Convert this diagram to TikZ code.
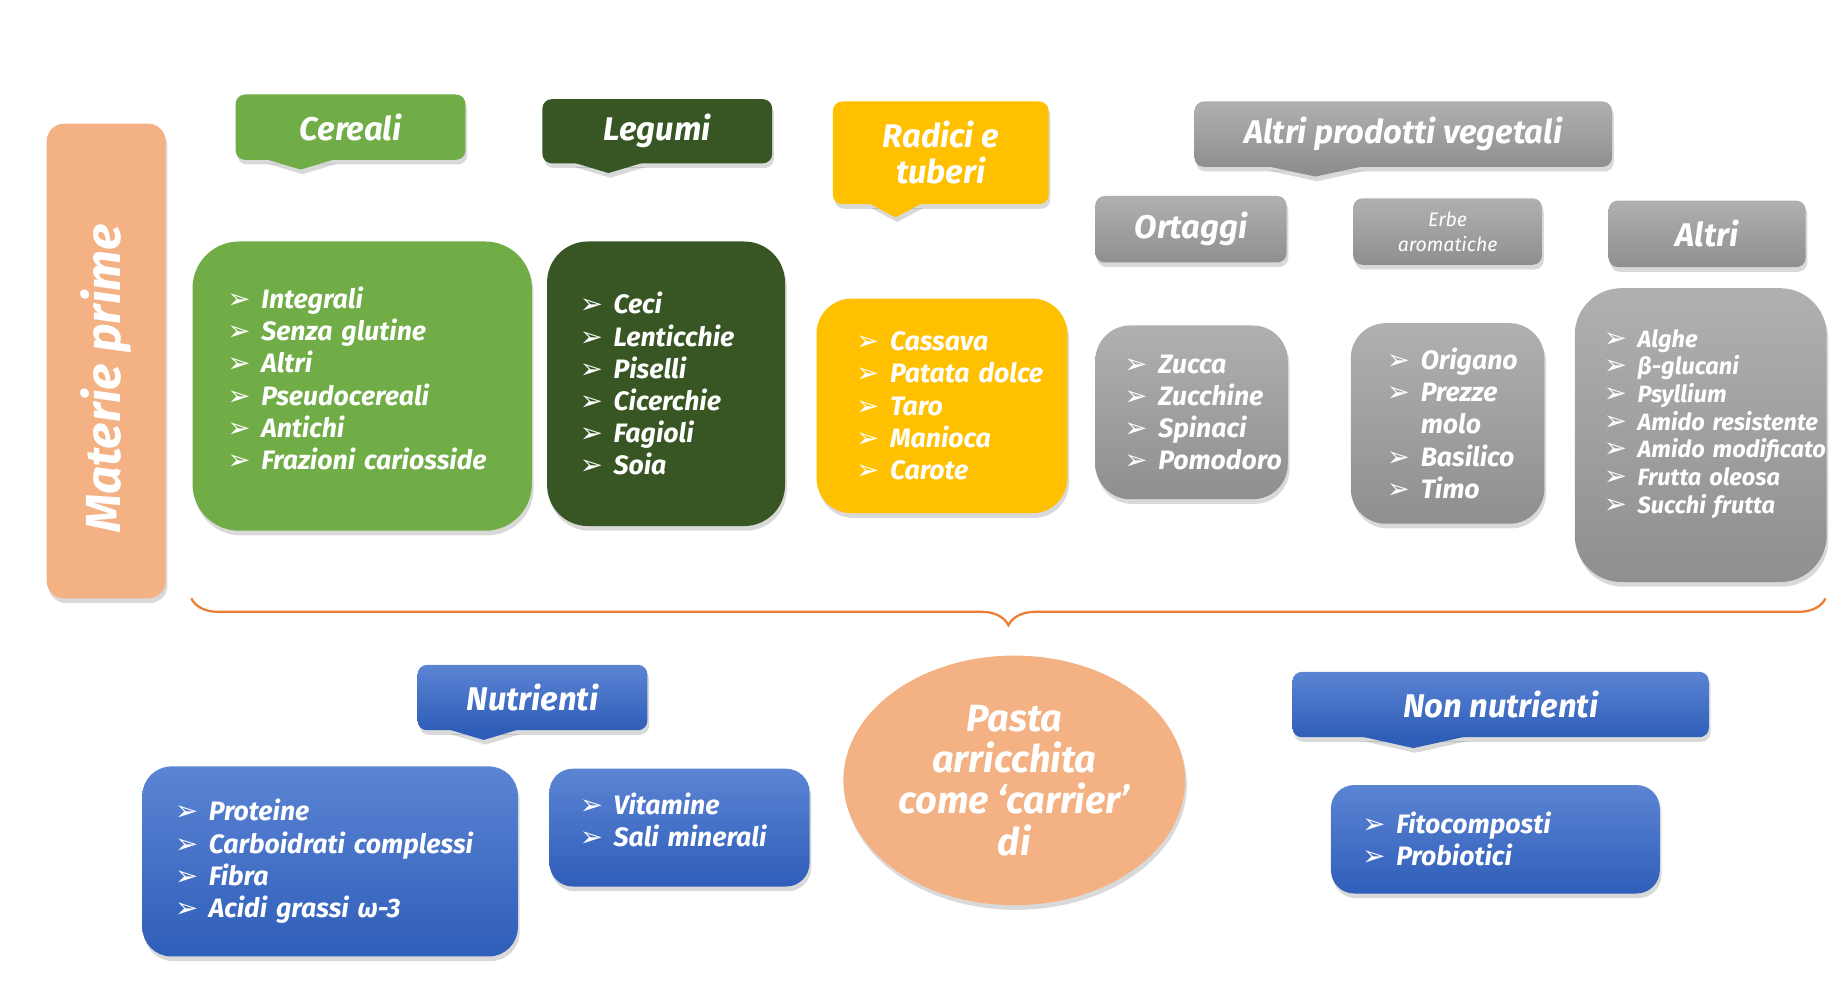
\documentclass[tikz,border=0pt]{standalone}
\usepackage{fontspec}
\setmainfont{Fira Sans}
\newfontfamily\symfont{DejaVu Sans}
\usetikzlibrary{shapes.geometric, shadows, decorations.pathreplacing, calc}

\definecolor{peach}{HTML}{F4B183}
\definecolor{grn}{HTML}{70AD47}
\definecolor{dkgrn}{HTML}{375623}
\definecolor{yel}{HTML}{FFC000}
\definecolor{gryT}{HTML}{B0B0B0}
\definecolor{gryB}{HTML}{8F8F8F}
\definecolor{bluT}{HTML}{5B84D3}
\definecolor{bluB}{HTML}{2F5EB9}
\definecolor{brc}{HTML}{ED7D31}

\newcommand{\itm}[1]{\mbox{\makebox[0.58cm][l]{\symfont\fontsize{13.5}{13.5}\selectfont ➢}#1}}
\newcommand{\cnt}[1]{\mbox{\hspace*{0.58cm}#1}}

\begin{document}
\begin{tikzpicture}[x = 0.02cm, y = -0.02cm,
	shd/.style = {drop shadow = {shadow xshift = 0.03cm, shadow yshift = -0.08cm, opacity = 0.3}},
	hdr/.style = {shd, rounded corners = 0.16cm, text = white, align = center, inner sep = 0pt,
		font = \fontsize{16}{17.6}\selectfont\bfseries\itshape},
	lst/.style = {shd, text = white, align = left, inner ysep = 0pt,
		font = \fontsize{13}{15.7}\selectfont\bfseries\itshape},
	gryfill/.style = {top color = gryT, bottom color = gryB},
	blufill/.style = {top color = bluT, bottom color = bluB}]

	\useasboundingbox (0, 0) rectangle (1568, 856);

	% Side label

	\node [shd, fill = peach, rounded corners = 0.3cm, minimum width = 2.04cm, minimum height = 8.14cm,
		text = white, font = \fontsize{24}{24}\selectfont\bfseries\itshape] (mat) at (91, 309.5)
		{\rotatebox{90}{Materie prime\hspace*{0.6cm}}};

	% Headers of the raw materials

	\node [hdr, fill = grn, minimum width = 3.94cm, minimum height = 1.12cm] (cer) at (300.5, 109) {Cereali};
	\node [hdr, fill = dkgrn, minimum width = 3.94cm, minimum height = 1.10cm] (leg) at (563.5, 112.5) {Legumi};
	\node [hdr, fill = yel, minimum width = 3.70cm, minimum height = 1.76cm] (rad) at (806.5, 131) {Radici e\\tuberi};
	\node [hdr, gryfill, minimum width = 7.16cm, minimum height = 1.12cm] (apv) at (1203, 115) {Altri prodotti vegetali};

	\node [hdr, gryfill, minimum width = 3.28cm, minimum height = 1.14cm] (ort) at (1021, 196.5) {Ortaggi};
	\node [hdr, gryfill, minimum width = 3.24cm, minimum height = 1.14cm,
		font = \fontsize{9.5}{12}\selectfont\itshape] (erb) at (1241, 198.5) {Erbe\\aromatiche};
	\node [hdr, gryfill, minimum width = 3.38cm, minimum height = 1.14cm] (alt) at (1463.5, 200.5) {Altri};

	% Pointers under the headers

	\fill [grn, shd] ($(cer.south west) + (26, -1)$) -- ++(30, 9) -- ++(30, -9) -- cycle;
	\fill [dkgrn, shd] ($(leg.south west) + (27, -1)$) -- ++(30, 9) -- ++(30, -9) -- cycle;
	\fill [yel, shd] ($(rad.south west) + (31.5, -1)$) -- ++(22.5, 12) -- ++(22.5, -12) -- cycle;
	\fill [gryB, shd] ($(apv.south west) + (62, -1)$) -- ++(42, 9) -- ++(42, -9) -- cycle;

	% Lists of the raw materials

	\node [lst, fill = grn, rounded corners = 0.8cm, minimum height = 4.96cm, text width = 4.62cm,
		inner xsep = 0.6cm] (cerL) at (310.5, 331)
		{\itm{Integrali}\\ \itm{Senza glutine}\\ \itm{Altri}\\ \itm{Pseudocereali}\\ \itm{Antichi}\\
		\itm{Frazioni cariosside}\\[-8pt] \mbox{}};

	\node [lst, fill = dkgrn, rounded corners = 0.7cm, minimum height = 4.88cm, text width = 2.96cm,
		inner xsep = 0.56cm] (legL) at (571, 329)
		{\itm{Ceci}\\ \itm{Lenticchie}\\ \itm{Piselli}\\ \itm{Cicerchie}\\ \itm{Fagioli}\\ \itm{Soia}};

	\node [lst, fill = yel, rounded corners = 0.6cm, minimum height = 3.68cm, text width = 2.94cm,
		inner xsep = 0.68cm] (radL) at (807.5, 348)
		{\itm{Cassava}\\ \itm{Patata dolce}\\ \itm{Taro}\\ \itm{Manioca}\\ \itm{Carote}};

	\node [lst, gryfill, rounded corners = 0.6cm, minimum height = 2.98cm, text width = 2.30cm,
		inner xsep = 0.5cm] (ortL) at (1021.5, 353.5)
		{\itm{Zucca}\\ \itm{Zucchine}\\ \itm{Spinaci}\\ \itm{Pomodoro}};

	\node [lst, gryfill, rounded corners = 0.6cm, minimum height = 3.44cm, text width = 2.08cm,
		inner xsep = 0.62cm] (erbL) at (1241, 363)
		{\itm{Origano}\\ \itm{Prezze}\\ \cnt{molo}\\ \itm{Basilico}\\ \itm{Timo}};

	\node [lst, gryfill, rounded corners = 0.8cm, minimum height = 5.04cm, text width = 3.32cm,
		inner xsep = 0.5cm, font = \fontsize{11.5}{13.5}\selectfont\bfseries\itshape] (altL) at (1458, 373)
		{\itm{Alghe}\\ \itm{β-glucani}\\ \itm{Psyllium}\\ \itm{Amido resistente}\\ \itm{Amido modificato}\\
		\itm{Frutta oleosa}\\ \itm{Succhi frutta}\\ \mbox{}};

	% Draw brace

	\coordinate (brL) at (164, 513);
	\coordinate (brR) at (1565, 513);
	\draw [brc, line width = 1.1pt, decorate, decoration = {brace, mirror, amplitude = 0.46cm}] (brL) -- (brR);

	% Central ellipse

	\node [ellipse, shd, fill = peach, minimum width = 5.86cm, minimum height = 4.28cm, inner sep = 0pt,
		text = white, align = center, font = \fontsize{18.5}{20.2}\selectfont\bfseries\itshape] (pst) at (869.5, 669)
		{Pasta\\arricchita\\come `carrier'\\di};

	% Nutrienti / Non nutrienti

	\node [hdr, blufill, minimum width = 3.94cm, minimum height = 1.12cm] (nut) at (456.5, 598) {Nutrienti};
	\node [hdr, blufill, minimum width = 7.14cm, minimum height = 1.12cm] (non) at (1286.5, 604) {Non nutrienti};

	\fill [bluB, shd] ($(nut.south west) + (27, -1)$) -- ++(30, 9) -- ++(30, -9) -- cycle;
	\fill [bluB, shd] ($(non.south west) + (59, -1)$) -- ++(45, 10) -- ++(45, -10) -- cycle;

	\node [lst, blufill, rounded corners = 0.5cm, minimum height = 3.26cm, text width = 5.32cm,
		inner xsep = 0.56cm] (nutL) at (283, 738.5)
		{\itm{Proteine}\\ \itm{Carboidrati complessi}\\ \itm{Fibra}\\ \itm{Acidi grassi ω-3}};

	\node [lst, blufill, rounded corners = 0.4cm, minimum height = 2.02cm, text width = 3.42cm,
		inner xsep = 0.52cm] (vitL) at (582.5, 709.5)
		{\itm{Vitamine}\\ \itm{Sali minerali}\\[-8pt] \mbox{}};

	\node [lst, blufill, rounded corners = 0.4cm, minimum height = 1.86cm, text width = 4.56cm,
		inner xsep = 0.54cm] (nonL) at (1282, 719.5)
		{\itm{Fitocomposti}\\ \itm{Probiotici}};

\end{tikzpicture}
\end{document}
